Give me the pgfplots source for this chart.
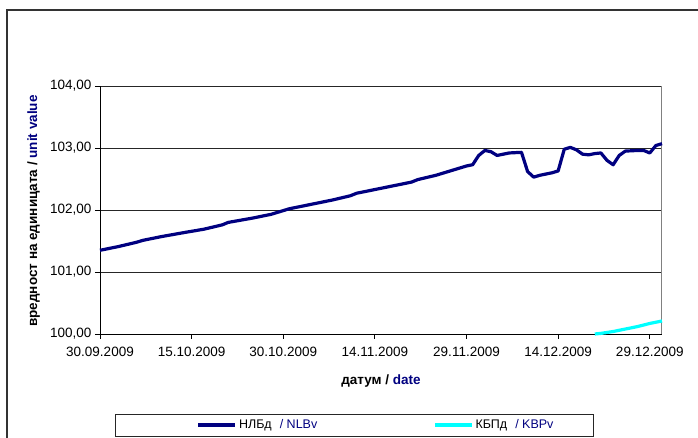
\documentclass[border=0pt]{standalone}
\usepackage{pgfplots}
\pgfplotsset{compat=1.18}
\usepackage{fontspec}
\setmainfont{Liberation Sans}
\definecolor{navy}{RGB}{0,0,128}
\definecolor{aqua}{RGB}{0,255,255}
\begin{document}
\begin{tikzpicture}
% outer chart frame (cut off at right and bottom)
\draw[line width=1.5pt, black!80] (7pt,0pt) -- (7pt,428pt) -- (698pt,428pt);
% legend frame
\draw[line width=0.8pt, black!85] (115pt,2pt) rectangle (593pt,24pt);
\begin{axis}[
    at={(100pt,104pt)}, anchor=south west,
    scale only axis,
    width=562pt, height=248pt,
    xmin=0, xmax=92,
    ymin=100, ymax=104,
    axis x line*=bottom, axis y line*=left,
    axis line style={black, line width=0.8pt},
    xtick={0,15,30,45,60,75,90},
    xticklabels={30.09.2009,15.10.2009,30.10.2009,14.11.2009,29.11.2009,14.12.2009,29.12.2009},
    ytick={100,101,102,103,104},
    yticklabel style={/pgf/number format/.cd, fixed, fixed zerofill, precision=2, use comma},
    /pgf/number format/assume math mode=true,
    tick align=outside,
    major tick length=5pt,
    tick style={black, line width=0.8pt},
    ymajorgrids,
    grid style={black!85, line width=0.8pt},
    ticklabel style={font=\fontsize{13.5}{16}\selectfont},
    xticklabel style={yshift=-5pt},
    xlabel={датум / \textcolor{navy}{date}},
    ylabel={вредност на единицата / \textcolor{navy}{unit value}},
    every axis x label/.style={at={(axis description cs:0.5,-0.19)}, anchor=center,
        font=\fontsize{13.5}{15}\selectfont\bfseries},
    every axis y label/.style={at={(axis description cs:-0.118,0.496)}, anchor=center, rotate=90,
        font=\fontsize{13.5}{15}\selectfont\bfseries},
    clip=false,
    legend columns=2,
    legend image code/.code={\draw[#1] (0pt,0pt) -- (37pt,0pt);},
    legend style={draw=none, fill=none, at={(axis description cs:0.172,-0.367)}, anchor=west,
        inner sep=0pt, font=\fontsize{12.5}{15}\selectfont,
        nodes={inner sep=2pt},
        /tikz/every even column/.append style={column sep=114pt}},
]
\draw[gray, line width=1pt] (rel axis cs:1,0) -- (rel axis cs:1,1);

% NLBv
\addplot[navy, line width=3.2pt, line join=round] coordinates {
 (0,101.35) (3,101.41) (6,101.48) (7,101.51) (10,101.57) (14,101.64) (17,101.69)
 (20,101.76) (21,101.80) (25,101.87) (28,101.93) (30,101.99) (31,102.02) (35,102.10)
 (38,102.16) (41,102.23) (42,102.27) (45,102.33) (48,102.39) (51,102.45) (52,102.49)
 (55,102.56) (57,102.62) (59,102.68) (60,102.71) (61,102.73) (62,102.88) (63,102.96)
 (64,102.94) (65,102.88) (66,102.90) (67,102.92) (69,102.93) (70,102.62) (71,102.53)
 (72,102.56) (74,102.60) (75,102.63) (76,102.98) (77,103.01) (78,102.97) (79,102.90)
 (80,102.89) (81,102.91) (82,102.92) (83,102.80) (84,102.73) (85,102.88) (86,102.95)
 (88,102.96) (89,102.96) (90,102.92) (91,103.04) (92,103.07)
};
\addlegendentry{НЛБд\hspace{8pt}\textcolor{navy}{/ NLBv}}

% KBPv
\addplot[aqua, line width=3.2pt, line join=round] coordinates {
 (81,100.00) (82,100.01) (84,100.04) (86,100.08) (88,100.12) (90,100.17) (91,100.19) (92,100.21)
};
\addlegendentry{КБПд\hspace{8pt}\textcolor{navy}{/ KBPv}}
\end{axis}
\pgfresetboundingbox
\useasboundingbox (0,0) rectangle (698pt,438pt);
\end{tikzpicture}
\end{document}
